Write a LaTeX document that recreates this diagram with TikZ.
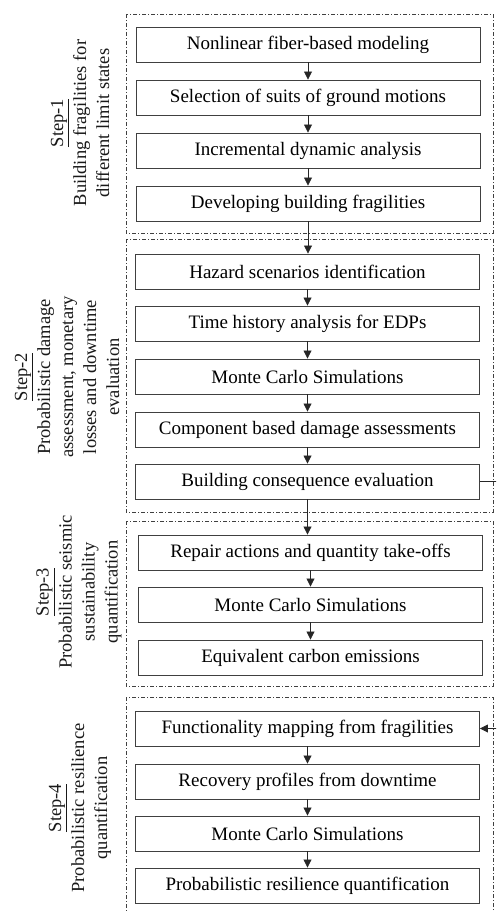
\documentclass[tikz,border=0pt]{standalone}
\usepackage{fontspec}
\setmainfont{Liberation Serif}
\usetikzlibrary{arrows.meta}

\tikzset{
  procbox/.style={draw=black!75, line width=0.9pt, minimum width=344pt,
    minimum height=35pt, inner sep=0pt, font=\fontsize{19}{23}\selectfont},
  stepframe/.style={draw=black!75, line width=0.8pt,
    dash pattern=on 4pt off 2pt on 1pt off 2pt},
  steplabel/.style={rotate=90, align=center, text=black!90,
    font=\fontsize{18.5}{23}\selectfont},
  flow/.style={->, draw=black!85, line width=0.8pt}
}

\begin{document}
\begin{tikzpicture}[x=1pt, y=-1pt, >={Triangle[length=8pt,width=8pt]}]
    \clip (0,0) rectangle (496,912);

    % Step frames
    \draw[stepframe] (126,14) rectangle (493,233);
    \draw[stepframe] (126,239) rectangle (493,512);
    \draw[stepframe] (126,521) rectangle (493,686);
    \draw[stepframe] (126,697) rectangle (493,920);

    % Step labels
    \node[steplabel] (l1) at (80,123) {\underline{Step-1}\\Building fragilities for\\different limit states};
    \node[steplabel] (l2) at (67,377) {\underline{Step-2}\\Probabilistic damage\\assessment, monetary\\losses and downtime\\evaluation};
    \node[steplabel] (l3) at (79,592) {\underline{Step-3}\\Probabilistic seismic\\sustainability\\quantification};
    \node[steplabel] (l4) at (80,808) {\underline{Step-4}\\Probabilistic resilience\\quantification};

    % Step-1 boxes
    \node[procbox] (b11) at (308,44.5) {Nonlinear fiber-based modeling};
    \node[procbox] (b12) at (308,97.5) {Selection of suits of ground motions};
    \node[procbox] (b13) at (308,150.5) {Incremental dynamic analysis};
    \node[procbox] (b14) at (308,203.5) {Developing building fragilities};

    % Step-2 boxes
    \node[procbox] (b21) at (307.5,271.5) {Hazard scenarios identification};
    \node[procbox] (b22) at (307.5,323.5) {Time history analysis for EDPs};
    \node[procbox] (b23) at (307.5,376.5) {Monte Carlo Simulations};
    \node[procbox] (b24) at (307.5,429.5) {Component based damage assessments};
    \node[procbox] (b25) at (307.5,481.5) {Building consequence evaluation};

    % Step-3 boxes
    \node[procbox] (b31) at (310.5,552.5) {Repair actions and quantity take-offs};
    \node[procbox] (b32) at (310.5,604.5) {Monte Carlo Simulations};
    \node[procbox] (b33) at (310.5,657.5) {Equivalent carbon emissions};

    % Step-4 boxes
    \node[procbox] (b41) at (307.5,728.5) {Functionality mapping from fragilities};
    \node[procbox] (b42) at (307.5,781.5) {Recovery profiles from downtime};
    \node[procbox] (b43) at (307.5,833.5) {Monte Carlo Simulations};
    \node[procbox] (b44) at (307.5,885.5) {Probabilistic resilience quantification};

    % Flow arrows
    \foreach \a/\b in {b11/b12, b12/b13, b13/b14, b14/b21, b21/b22, b22/b23,
                       b23/b24, b24/b25, b25/b31, b31/b32, b32/b33,
                       b41/b42, b42/b43, b43/b44} {
        \draw[flow] (\a.south) -- (\a.south |- \b.north);
    }

    % Feedback to Step-4
    \coordinate (fb) at (505,481.5);
    \draw[flow] (b25.east) -- (fb) |- (b41.east);
\end{tikzpicture}
\end{document}
